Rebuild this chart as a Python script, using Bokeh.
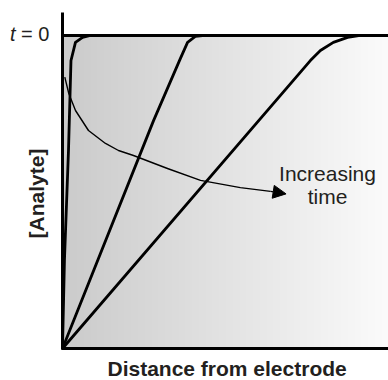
import numpy as np
from bokeh.plotting import figure
from bokeh.models import Range1d, Label, Arrow, NormalHead
from bokeh.embed import file_html
from bokeh.resources import INLINE

# Concentration profiles (distance, normalised [analyte]) at increasing times
dist_t1 = [0.0, 0.006, 0.0185, 0.0262, 0.040, 0.062, 0.086, 1.0]
conc_t1 = [0.0, 0.281, 0.633, 0.920, 0.978, 0.994, 1.0, 1.0]

dist_t2 = [0.0, 0.281, 0.364, 0.386, 0.410, 0.432, 1.0]
conc_t2 = [0.0, 0.728, 0.927, 0.978, 0.997, 1.0, 1.0]

dist_t3 = [0.0, 0.765, 0.796, 0.836, 0.880, 0.914, 1.0]
conc_t3 = [0.0, 0.920, 0.952, 0.978, 0.994, 1.0, 1.0]

# t = 0 profile (bulk concentration)
dist_t0 = [0.0, 1.0]
conc_t0 = [1.0, 1.0]

# "Increasing time" arrow path
arrow_x = [0.0071, 0.0194, 0.0401, 0.0802, 0.1327, 0.1728, 0.2191, 0.324, 0.426, 0.549, 0.642]
arrow_y = [0.8668, 0.8147, 0.7604, 0.6965, 0.6550, 0.6326, 0.6166, 0.575, 0.537, 0.514, 0.502]
arrow_tip = (0.690, 0.494)

FONT = "Liberation Sans"
TXT = "#231f20"

# pixel scale: x 324 px per unit (0 at 62 px), y 313 px per unit (0 at 348 px)
p = figure(width=388, height=380, output_backend="svg", toolbar_location=None,
           min_border_left=0, min_border_right=0, min_border_top=0, min_border_bottom=0,
           x_range=Range1d(-62 / 324, 326 / 324), y_range=Range1d(-32 / 313, 348 / 313))
p.axis.visible = False
p.grid.visible = False
p.outline_line_color = None
p.background_fill_color = "white"
p.border_fill_color = "white"

# gradient background (grey at the electrode, fading to white)
N = 326
g = np.linspace(203, 251, N).astype(np.uint32)
row = (255 << 24) | (g << 16) | (g << 8) | g
img = np.vstack([row, row]).astype(np.uint32)
p.image_rgba(image=[img], x=0, y=0, dw=326 / 324, dh=1.0)

# axes
p.line([0, 0], [0, 336 / 313], line_color="black", line_width=3)
p.line([0, 326 / 324], [0, 0], line_color="black", line_width=3)

# profiles
p.line([0, 326 / 324], conc_t0, line_color="black", line_width=3)
for xs, ys in [(dist_t1, conc_t1), (dist_t2, conc_t2), (dist_t3, conc_t3)]:
    p.line(xs, ys, line_color="black", line_width=2.8, line_join="round", line_cap="round")

# arrow
p.line(arrow_x, arrow_y, line_color="black", line_width=1.4, line_join="round")
p.add_layout(Arrow(end=NormalHead(size=13, fill_color="black", line_color="black", line_width=1),
                   x_start=arrow_x[-1], y_start=arrow_y[-1], x_end=arrow_tip[0], y_end=arrow_tip[1],
                   line_color="black", line_width=1.4))

def lab(text, x, y, size="21px", style="normal", align="left", baseline="alphabetic", angle=0.0):
    p.add_layout(Label(x=x, y=y, text=text, text_font=FONT, text_font_size=size,
                       text_font_style=style, text_align=align, text_baseline=baseline,
                       text_color=TXT, angle=angle))

lab("Increasing", 0.818, (348 - 173) / 313, align="center")
lab("time", 0.818, (348 - 196) / 313, align="center")
lab("t", (9.5 - 62) / 324, (348 - 33) / 313, size="20px", style="italic")
lab("= 0", (20.5 - 62) / 324, (348 - 33) / 313, size="20px")
lab("Distance from electrode", 0.508, (348 - 368) / 313, style="bold", align="center")
lab("[Analyte]", (36 - 62) / 324, (348 - 193) / 313, style="bold", align="center",
    angle=np.pi / 2)

open("out.html", "w").write(file_html(p, INLINE))
